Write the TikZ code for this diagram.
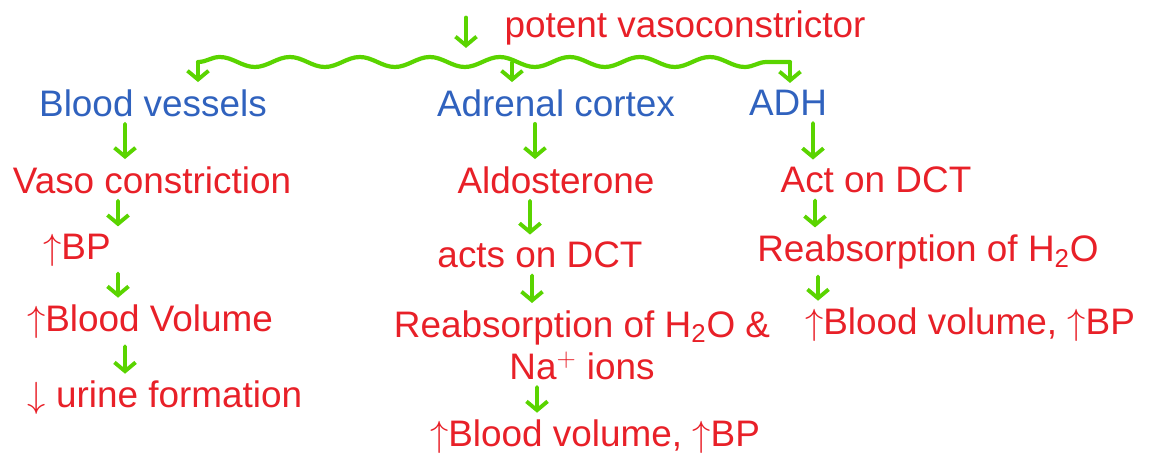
\documentclass[tikz,border=0pt]{standalone}
\usepackage{fontspec}
\setmainfont{Liberation Sans}
\usetikzlibrary{arrows.meta,decorations.pathmorphing}
\definecolor{leafgreen}{RGB}{90,212,0}
\definecolor{inkred}{RGB}{232,32,40}
\definecolor{inkblue}{RGB}{48,98,190}

\begin{document}
\begin{tikzpicture}[x=0.02cm,y=-0.02cm,>={Straight Barb[length=5pt,width=12pt]},
 head/.style={text=inkblue,font=\fontsize{21}{21}\selectfont,inner sep=2pt},
 lbl/.style={text=inkred,font=\fontsize{21}{21}\selectfont,align=center,inner sep=2pt},
 arr/.style={->,draw=leafgreen,line width=2.2pt,line cap=round,shorten <=2pt,shorten >=2pt},
 wave/.style={draw=leafgreen,line width=2.4pt,line cap=round,decorate,
  decoration={snake,segment length=1.4cm,amplitude=1mm}}]
\useasboundingbox (0,0) rectangle (1157,465);
% top
\node[lbl] (vaso) at (685,28) {potent vasoconstrictor};
\coordinate (tp) at (466,14);
\coordinate (wl) at (198,62);
\coordinate (wm) at (512,62);
\coordinate (wr) at (790,62);
\node[head] (bv) at (153,103) {Blood vessels};
\node[head] (adr) at (556,103) {Adrenal cortex};
\node[head] (adh) at (788,103) {ADH};
% left column
\node[lbl] (vcon) at (152,180) {Vaso constriction};
\node[lbl] (bp1) at (77,250) {$\uparrow$BP};
\node[lbl] (bvol1) at (150,322) {$\uparrow$Blood Volume};
\node[lbl] (urine) at (165,398) {$\downarrow$ urine formation};
% middle column
\node[lbl] (aldo) at (556,180) {Aldosterone};
\node[lbl] (acts) at (540,255) {acts on DCT};
\node[lbl,font=\fontsize{21}{24}\selectfont] (reab2) at (582,345)
 {Reabsorption of H\textsubscript{2}O \&\\Na$^{+}$ ions};
\node[lbl] (bvol2) at (595,437) {$\uparrow$Blood volume, $\uparrow$BP};
% right column
\node[lbl] (dct3) at (876,180) {Act on DCT};
\node[lbl] (reab3) at (928,252) {Reabsorption of H\textsubscript{2}O};
\node[lbl] (bvol3) at (970,325) {$\uparrow$Blood volume, $\uparrow$BP};

\draw[arr,shorten >=8pt] (tp) -- (tp |- wl);
\draw[wave] (wl) -- (wr);
\draw[arr,shorten <=0pt] (wl) -- ([xshift=0.9cm]bv.north);
\draw[arr,shorten <=0pt] (wm) -- ([xshift=-0.88cm]adr.north);
\draw[arr,shorten <=0pt] (wr) -- ([xshift=0.04cm]adh.north);

\draw[arr] ([xshift=-0.56cm]bv.south) -- ([xshift=-0.54cm]vcon.north);
\draw[arr] ([xshift=-0.68cm]vcon.south) -- ([xshift=0.82cm]bp1.north);
\draw[arr] ([xshift=0.82cm]bp1.south) -- ([xshift=-0.64cm]bvol1.north);
\draw[arr] ([xshift=-0.5cm]bvol1.south) -- ([xshift=-0.8cm]urine.north);

\draw[arr] ([xshift=-0.42cm]adr.south) -- ([xshift=-0.42cm]aldo.north);
\draw[arr] ([xshift=-0.52cm]aldo.south) -- ([xshift=-0.2cm]acts.north);
\draw[arr] ([xshift=-0.16cm]acts.south) -- ([xshift=-1cm]reab2.north);
\draw[arr] ([xshift=-0.9cm]reab2.south) -- ([xshift=-1.16cm]bvol2.north);

\draw[arr] ([xshift=0.5cm]adh.south) -- ([xshift=-1.26cm]dct3.north);
\draw[arr] ([xshift=-1.22cm]dct3.south) -- ([xshift=-2.26cm]reab3.north);
\draw[arr] ([xshift=-2.2cm]reab3.south) -- ([xshift=-3.04cm]bvol3.north);
\end{tikzpicture}
\end{document}
